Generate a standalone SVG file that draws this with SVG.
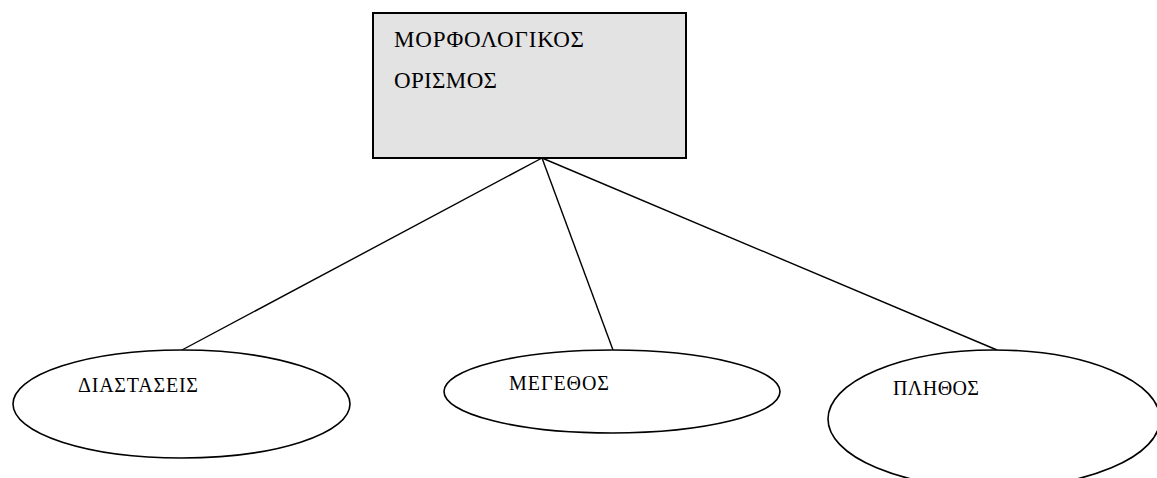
<svg xmlns="http://www.w3.org/2000/svg" width="1157" height="478" viewBox="0 0 1157 478">
  <style>
    .box { fill: #e3e3e3; stroke: #000; stroke-width: 2; }
    .oval { fill: #fff; stroke: #000; stroke-width: 1.6; }
    .link { stroke: #000; stroke-width: 1.4; fill: none; }
    .t-big { font-family: "Liberation Serif", "Times New Roman", serif; font-size: 23px; fill: #000; }
    .t-small { font-family: "Liberation Serif", "Times New Roman", serif; font-size: 20px; fill: #000; }
  </style>
  <rect width="1157" height="478" fill="#fff"/>

  <!-- connectors from the definition box to the three attributes -->
  <g id="connectors">
    <line class="link" x1="542" y1="158" x2="182" y2="350"/>
    <line class="link" x1="542" y1="158" x2="613" y2="350"/>
    <line class="link" x1="542" y1="158" x2="997" y2="350"/>
  </g>

  <g id="node-definition">
    <rect class="box" x="373" y="13" width="313" height="145"/>
    <text class="t-big" x="394" y="47" textLength="190" lengthAdjust="spacing">ΜΟΡΦΟΛΟΓΙΚΟΣ</text>
    <text class="t-big" x="394" y="88" textLength="103" lengthAdjust="spacing">ΟΡΙΣΜΟΣ</text>
  </g>

  <g id="node-dimensions">
    <ellipse class="oval" cx="181.5" cy="404" rx="168.5" ry="54"/>
    <text class="t-small" x="78" y="392" textLength="120" lengthAdjust="spacing">ΔΙΑΣΤΑΣΕΙΣ</text>
  </g>

  <g id="node-size">
    <ellipse class="oval" cx="612" cy="391.5" rx="168" ry="41.5"/>
    <text class="t-small" x="509" y="390" textLength="100" lengthAdjust="spacing">ΜΕΓΕΘΟΣ</text>
  </g>

  <g id="node-count">
    <ellipse class="oval" cx="994" cy="419" rx="166" ry="69"/>
    <text class="t-small" x="893" y="395" textLength="86" lengthAdjust="spacing">ΠΛΗΘΟΣ</text>
  </g>
</svg>
